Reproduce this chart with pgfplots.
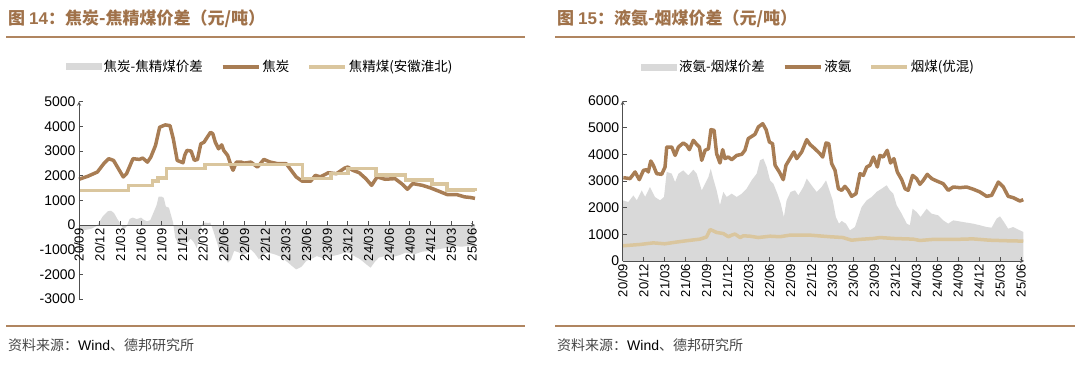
\documentclass[border=0pt]{standalone}
\usepackage{fontspec}
\setmainfont{Liberation Sans}
\newfontfamily\cjk{Noto Sans CJK SC}
\usepackage{pgfplots}
\pgfplotsset{compat=1.18}
\definecolor{cokebrown}{RGB}{168,125,84}
\definecolor{coallight}{RGB}{218,198,158}
\definecolor{areagray}{RGB}{217,217,217}
\definecolor{titlebrown}{RGB}{160,114,74}
\definecolor{rulebrown}{RGB}{176,133,96}
\definecolor{axgray}{RGB}{80,80,80}
\definecolor{srcgray}{RGB}{70,70,70}

\pgfplotsset{
 mystyle/.style={
  scale only axis,
  axis on top,
  xmin=0, xmax=19.15,
  xtick={0,...,19},
  xticklabels={20/09,20/12,21/03,21/06,21/09,21/12,22/03,22/06,22/09,22/12,23/03,23/06,23/09,23/12,24/03,24/06,24/09,24/12,25/03,25/06},
  xticklabel style={rotate=90, anchor=east, font=\fontsize{13}{13}\selectfont},
  yticklabel style={font=\fontsize{14}{14}\selectfont},
  /pgf/number format/assume math mode=true,
  /pgf/number format/1000 sep={},
  axis line style={-, axgray, line width=0.8pt},
  tick style={axgray, line width=0.8pt},
  major tick length=4pt,
  tick align=inside,
  clip=false,
  legend style={draw=none, fill=none, font=\cjk\fontsize{13.5}{13.5}\selectfont,
    legend columns=3, /tikz/every even column/.append style={column sep=16pt}},
  legend cell align=left,
 },
 arealeg/.style={legend image code/.code={\fill[areagray] (0pt,-3.5pt) rectangle (36pt,3.5pt);}},
 brownleg/.style={legend image code/.code={\draw[cokebrown, line width=3.5pt] (0pt,0pt) -- (36pt,0pt);}},
 lightleg/.style={legend image code/.code={\draw[coallight, line width=3.5pt] (0pt,0pt) -- (36pt,0pt);}},
}

\begin{document}
\begin{tikzpicture}
\path[use as bounding box] (0,0) rectangle (1080pt,370pt);

% titles and rules
\node[anchor=base west, inner sep=0, text=titlebrown, font=\cjk\bfseries\fontsize{17}{17}\selectfont] at (8pt,345pt) {图 {\rmfamily\bfseries 14}：焦炭-焦精煤价差（元/吨）};
\node[anchor=base west, inner sep=0, text=titlebrown, font=\cjk\bfseries\fontsize{17}{17}\selectfont] at (557pt,345pt) {图 {\rmfamily\bfseries 15}：液氨-烟煤价差（元/吨）};
\draw[rulebrown, line width=1.5pt] (6pt,333pt) -- (525pt,333pt);
\draw[rulebrown, line width=1.5pt] (555pt,333pt) -- (1075pt,333pt);
\draw[rulebrown, line width=1.5pt] (6pt,44pt) -- (525pt,44pt);
\draw[rulebrown, line width=1.5pt] (555pt,44pt) -- (1075pt,44pt);
\node[anchor=base west, inner sep=0, font=\fontsize{14}{14}\selectfont] at (8pt,20pt) {{\cjk\color{srcgray}资料来源：}Wind{\cjk\color{srcgray}、德邦研究所}};
\node[anchor=base west, inner sep=0, font=\fontsize{14}{14}\selectfont] at (557pt,20pt) {{\cjk\color{srcgray}资料来源：}Wind{\cjk\color{srcgray}、德邦研究所}};

% left chart
\begin{axis}[mystyle, at={(79pt,71pt)}, anchor=south west, width=396pt, height=197.3pt,
  ymin=-3000, ymax=5000, ytick={-3000,-2000,...,5000},
  axis x line=middle, axis y line=left, tick align=inside,
  hide obscured x ticks=false, hide obscured y ticks=false,
  legend style={at={(0.457,1.176)}, anchor=center}]
\addplot[draw=none, fill=areagray, arealeg] coordinates {
(0,0) (0,-270) (0.3,-200) (0.6,-150) (0.85,-40) (0.95,80) (1.15,350) (1.4,560) (1.55,580) (1.7,480) (1.85,250) (2.0,60) (2.1,-100) (2.2,-150) (2.3,-60) (2.45,250) (2.6,300) (2.8,240) (3.0,300) (3.15,200) (3.3,150) (3.45,200) (3.6,500) (3.75,800) (3.85,1150) (4.0,1150) (4.1,1100) (4.2,750) (4.35,700) (4.45,400) (4.55,100) (4.65,-500) (4.8,-750) (5.0,-800) (5.2,-750) (5.4,-550) (5.55,-700) (5.7,-950) (5.85,-300) (5.95,50) (6.1,100) (6.25,80) (6.35,100) (6.5,-250) (6.65,-650) (6.8,-1050) (7.0,-1250) (7.2,-1530) (7.35,-1400) (7.5,-1050) (7.7,-1100) (7.9,-1200) (8.1,-1150) (8.3,-980) (8.5,-1150) (8.7,-1390) (8.9,-1200) (9.1,-1120) (9.3,-1150) (9.5,-1200) (9.8,-1300) (10.0,-1450) (10.3,-1660) (10.5,-1800) (10.75,-1700) (11.0,-1450) (11.2,-1390) (11.5,-1260) (11.8,-1350) (12.0,-1320) (12.3,-1250) (12.6,-1190) (12.9,-1100) (13.1,-1150) (13.4,-1300) (13.6,-1390) (13.9,-1600) (14.1,-1730) (14.3,-1500) (14.5,-1320) (14.8,-1260) (15.2,-1290) (15.5,-1220) (15.8,-1120) (16.2,-1190) (16.6,-1080) (17.0,-1050) (17.3,-990) (17.6,-950) (17.9,-920) (18.2,-860) (18.5,-880) (18.8,-850) (19.15,-850) (19.15,0)
} \closedcycle;
\addlegendentry{焦炭-焦精煤价差}
\addplot[cokebrown, line width=3.5pt, line join=round, brownleg] coordinates {
(0,1855) (0.42,1975) (0.89,2150) (1.2,2490) (1.44,2690) (1.67,2620) (2.14,1950) (2.3,2080) (2.61,2690) (2.92,2660) (3.08,2715) (3.31,2550) (3.47,2750) (3.7,3225) (3.9,3965) (4.17,4060) (4.4,4030) (4.56,3495) (4.75,2620) (5.03,2525) (5.11,2820) (5.22,3025) (5.42,3000) (5.58,2620) (5.73,2660) (5.89,3290) (6.05,3360) (6.2,3560) (6.36,3760) (6.47,3700) (6.59,3360) (6.75,3090) (6.9,3250) (7.0,3025) (7.19,2820) (7.38,2350) (7.45,2220) (7.61,2550) (7.84,2550) (8.0,2510) (8.31,2550) (8.63,2350) (8.94,2660) (9.25,2550) (9.6,2490) (10.02,2490) (10.26,2220) (10.5,1950) (10.8,1775) (11.2,1775) (11.43,2015) (11.67,1950) (12.06,2120) (12.45,2080) (12.85,2310) (13.0,2350) (13.24,2220) (13.55,2120) (13.87,1880) (14.15,1610) (14.42,1950) (14.8,1855) (15.28,1880) (15.6,1680) (15.88,1450) (16.14,1680) (16.6,1610) (17.0,1505) (17.48,1345) (17.8,1235) (18.26,1235) (18.65,1140) (18.9,1120) (19.15,1080)
};
\addlegendentry{焦炭}
\addplot[coallight, line width=3.5pt, const plot, lightleg] coordinates {
(0,1400) (2.4,1610) (3.55,1775) (3.81,1910) (4.22,2290) (6.09,2450) (10.82,1890) (12.18,2080) (13.02,2300) (14.36,2030) (15.8,1820) (17.07,1670) (17.8,1420) (19.15,1380)
};
\addlegendentry{焦精煤(安徽淮北)}
\end{axis}

% right chart
\begin{axis}[mystyle, at={(622.7pt,109pt)}, anchor=south west, width=401.4pt, height=160pt,
  ymin=0, ymax=6000, ytick={0,1000,...,6000},
  axis lines=left, tick align=inside,
  legend style={at={(0.463,1.2125)}, anchor=center}]
\addplot[draw=none, fill=areagray, arealeg] coordinates {
(0,0) (0,2275) (0.27,2210) (0.51,2460) (0.67,2275) (0.91,2650) (1.07,2400) (1.30,2775) (1.54,2400) (1.78,2275) (1.97,2400) (2.10,3340) (2.34,3275) (2.50,2960) (2.66,3275) (2.89,3400) (3.13,3210) (3.37,3425) (3.53,3275) (3.77,2650) (3.93,2900) (4.09,3150) (4.20,3460) (4.32,3090) (4.48,2650) (4.64,2090) (4.80,2590) (4.96,2400) (5.20,2525) (5.44,2400) (5.68,2525) (5.91,2710) (6.15,3025) (6.39,3275) (6.55,3775) (6.71,3840) (6.87,3525) (7.03,3025) (7.19,2900) (7.38,2525) (7.54,2150) (7.69,1650) (7.82,2275) (8.01,2590) (8.22,2650) (8.38,2460) (8.62,2775) (8.78,3090) (9.01,2840) (9.25,2590) (9.49,2775) (9.70,3025) (9.86,2650) (10.02,2275) (10.17,1650) (10.32,1400) (10.45,1500) (10.65,1400) (10.84,1150) (11.08,1275) (11.24,1650) (11.40,2025) (11.64,2275) (11.88,2400) (12.11,2590) (12.35,2710) (12.59,2840) (12.75,2650) (12.91,2525) (13.07,2090) (13.31,1775) (13.55,1400) (13.70,1340) (13.83,1960) (14.02,1840) (14.21,1650) (14.50,1960) (14.74,1775) (15.06,1710) (15.29,1525) (15.53,1400) (15.77,1525) (16.25,1460) (16.72,1400) (17.04,1340) (17.36,1275) (17.60,1250) (17.84,1590) (18.00,1675) (18.19,1460) (18.39,1210) (18.63,1275) (18.95,1150) (19.11,1090) (19.11,0)
} \closedcycle;
\addlegendentry{液氨-烟煤价差}
\addplot[cokebrown, line width=3.5pt, line join=round, brownleg] coordinates {
(0.03,3125) (0.35,3090) (0.59,3340) (0.79,3050) (0.99,3400) (1.14,3425) (1.22,3340) (1.34,3750) (1.46,3590) (1.62,3275) (1.86,3250) (2.02,3525) (2.10,4275) (2.34,4275) (2.50,3960) (2.66,4275) (2.89,4425) (3.05,4340) (3.18,4175) (3.37,4525) (3.53,4375) (3.66,4275) (3.77,3775) (3.93,4150) (4.09,4210) (4.21,4925) (4.36,4900) (4.48,4025) (4.64,3675) (4.77,4175) (4.88,3840) (5.04,3900) (5.20,3800) (5.44,3960) (5.68,4000) (5.83,4150) (5.99,4590) (6.31,4750) (6.47,5025) (6.68,5150) (6.84,4925) (7.00,4460) (7.15,4400) (7.27,3590) (7.47,3340) (7.66,3050) (7.79,3590) (7.98,3840) (8.17,4090) (8.30,3840) (8.54,4090) (8.78,4550) (8.93,4375) (9.17,4210) (9.41,4025) (9.54,3900) (9.70,4425) (9.83,4400) (9.97,3650) (10.13,3400) (10.29,2710) (10.45,2650) (10.60,2800) (10.76,2650) (10.92,2425) (11.13,2525) (11.32,3275) (11.48,3210) (11.64,3525) (11.80,3590) (11.96,3900) (12.15,3525) (12.27,3960) (12.43,3900) (12.62,4150) (12.78,3675) (12.94,3840) (13.10,3340) (13.31,3050) (13.47,2710) (13.62,2650) (13.83,3210) (14.02,3090) (14.18,2875) (14.34,3025) (14.53,3250) (14.74,3090) (14.98,3000) (15.29,2900) (15.53,2650) (15.77,2775) (16.09,2750) (16.41,2775) (16.73,2690) (17.04,2590) (17.36,2425) (17.60,2460) (17.92,2960) (18.16,2775) (18.39,2425) (18.63,2375) (18.95,2250) (19.11,2300)
};
\addlegendentry{液氨}
\addplot[coallight, line width=3.5pt, line join=round, lightleg] coordinates {
(0,570) (0.83,620) (1.46,680) (2.0,645) (2.57,710) (3.05,760) (3.69,820) (4.0,900) (4.17,1180) (4.32,1130) (4.48,1070) (4.8,1030) (5.04,910) (5.2,970) (5.36,1010) (5.6,880) (5.76,945) (6.07,930) (6.47,880) (7.03,930) (7.5,910) (7.98,970) (8.93,970) (9.89,910) (10.5,880) (10.92,780) (11.3,810) (11.96,845) (12.27,880) (12.91,845) (13.86,820) (14.18,770) (14.8,810) (15.9,810) (16.7,830) (17.5,780) (18.3,760) (19.11,745)
};
\addlegendentry{烟煤(优混)}
\end{axis}
\end{tikzpicture}
\end{document}
